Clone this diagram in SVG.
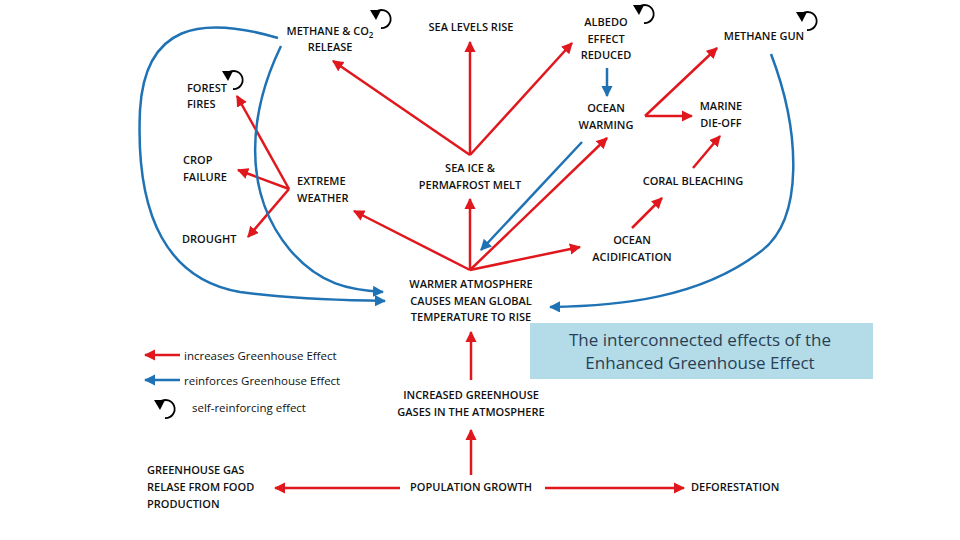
<svg xmlns="http://www.w3.org/2000/svg" width="960" height="540" viewBox="0 0 960 540">
<style>
text{font-family:"Open Sans","Liberation Sans",sans-serif;font-size:11px;font-weight:600;fill:#111}
.c{text-anchor:middle}
.lg{font-weight:400;font-size:11.5px}
.r{stroke:#e0181e;stroke-width:2.5;fill:none;marker-end:url(#ra)}
.rn{stroke:#e0181e;stroke-width:2.5;fill:none}
.b{stroke:#1f72b4;stroke-width:2.5;fill:none;marker-end:url(#ba)}
</style>
<defs>
<marker id="ra" viewBox="0 0 10 10" refX="9" refY="5" markerWidth="4.5" markerHeight="4.5" orient="auto"><path d="M0,0L10,5L0,10z" fill="#e0181e"/></marker>
<marker id="ba" viewBox="0 0 10 10" refX="9" refY="5" markerWidth="4.5" markerHeight="4.5" orient="auto"><path d="M0,0L10,5L0,10z" fill="#1f72b4"/></marker>
<g id="loop"><path d="M-6,-7 A9,9 0 1 1 -1,9" stroke="#000" stroke-width="1.8" fill="none"/><path d="M-12,-9 L-1,-9 L-6,1 z" fill="#000"/></g>
</defs>
<g id="connectors">
<path class="r" d="M471,475V430"/>
<path class="r" d="M400,488H275"/>
<path class="r" d="M545,488H684"/>
<path class="r" d="M471,380V332"/>
<path class="r" d="M470,270L354,211"/>
<path class="r" d="M470,270V199"/>
<path class="r" d="M470,270L607,138"/>
<path class="r" d="M470,270L580,247"/>
<path class="b" d="M582,142L481,250"/>
<path class="r" d="M470,155L333,61"/>
<path class="r" d="M470,155V42"/>
<path class="r" d="M470,155L572,43"/>
<path class="b" d="M607,68V96"/>
<path class="r" d="M645,116L717,48"/>
<path class="r" d="M645,116H692"/>
<path class="r" d="M693,168L720,136"/>
<path class="r" d="M632,228L662,198"/>
<path class="r" d="M289,189L237,96"/>
<path class="r" d="M289,189L238,170"/>
<path class="r" d="M289,189L248,237"/>
<path class="b" d="M278,38C200,15 145,25 140,110C135,220 170,280 240,292C300,300 350,300 385,301"/>
<path class="b" d="M281,46C250,110 240,190 290,250C320,285 350,290 383,292"/>
<path class="b" d="M771,54C800,130 805,220 760,252C700,298 620,306 550,307"/>
<path class="r" d="M180,355H145"/>
<path class="b" d="M180,380H145"/>
</g>
<g id="n-methane"><text class="c" x="330" y="35">METHANE &amp; CO<tspan font-size="8" dy="3">2</tspan></text><text class="c" x="330" y="51">RELEASE</text><use href="#loop" x="382" y="19"/></g>
<g id="n-sealevel"><text class="c" x="471" y="31">SEA LEVELS RISE</text></g>
<g id="n-albedo"><text class="c" x="606" y="26">ALBEDO</text><text class="c" x="606" y="43">EFFECT</text><text class="c" x="606" y="59">REDUCED</text><use href="#loop" x="645" y="14"/></g>
<g id="n-gun"><text class="c" x="764" y="40">METHANE GUN</text><use href="#loop" x="808" y="21"/></g>
<g id="n-forest"><text x="187" y="92">FOREST</text><text x="187" y="108">FIRES</text><use href="#loop" x="234" y="80"/></g>
<g id="n-crop"><text x="183" y="164">CROP</text><text x="183" y="181">FAILURE</text></g>
<g id="n-extreme"><text x="297" y="185">EXTREME</text><text x="297" y="202">WEATHER</text></g>
<g id="n-seaice"><text class="c" x="470" y="172">SEA ICE &amp;</text><text class="c" x="470" y="189">PERMAFROST MELT</text></g>
<g id="n-ocean"><text class="c" x="606" y="112">OCEAN</text><text class="c" x="606" y="129">WARMING</text></g>
<g id="n-marine"><text class="c" x="721" y="110">MARINE</text><text class="c" x="721" y="127">DIE-OFF</text></g>
<g id="n-coral"><text class="c" x="693" y="185">CORAL BLEACHING</text></g>
<g id="n-drought"><text x="182" y="243">DROUGHT</text></g>
<g id="n-acid"><text class="c" x="632" y="244">OCEAN</text><text class="c" x="632" y="261">ACIDIFICATION</text></g>
<g id="n-warmer"><text class="c" x="471" y="288">WARMER ATMOSPHERE</text><text class="c" x="471" y="305">CAUSES MEAN GLOBAL</text><text class="c" x="471" y="321">TEMPERATURE TO RISE</text></g>
<g id="title"><rect x="530" y="323" width="343" height="56" fill="#b3dce8"/><text class="c" x="700" y="346" style="font-size:17px;font-weight:400;fill:#2a3f55">The interconnected effects of the</text><text class="c" x="700" y="369" style="font-size:17px;font-weight:400;fill:#2a3f55">Enhanced Greenhouse Effect</text></g>
<g id="legend"><text class="lg" x="184" y="360">increases  Greenhouse Effect</text><text class="lg" x="184" y="385">reinforces Greenhouse Effect</text><use href="#loop" x="166" y="409"/><text class="lg" x="192" y="412">self-reinforcing effect</text></g>
<g id="n-increased"><text class="c" x="471" y="399">INCREASED GREENHOUSE</text><text class="c" x="471" y="416">GASES IN THE  ATMOSPHERE</text></g>
<g id="n-food"><text x="147" y="474">GREENHOUSE GAS</text><text x="147" y="491">RELASE FROM FOOD</text><text x="147" y="508">PRODUCTION</text></g>
<g id="n-pop"><text class="c" x="471" y="491">POPULATION GROWTH</text></g>
<g id="n-defor"><text x="691" y="491">DEFORESTATION</text></g>
</svg>
